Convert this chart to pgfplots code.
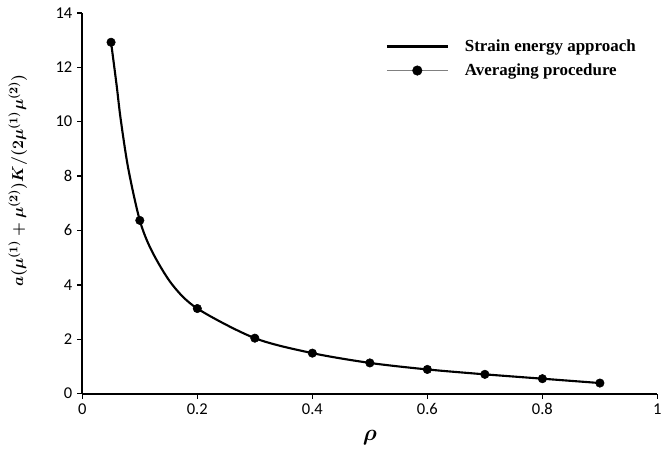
\documentclass[border=0pt]{standalone}
\usepackage{pgfplots}
\pgfplotsset{compat=1.18}
\usepackage{bm}
\usepackage{fontspec}
\setmainfont{Liberation Serif}
\setsansfont{Carlito}

\pgfplotsset{
    strainleg/.style={legend image code/.code={
        \path[draw=none, fill=none] (0pt,-9pt) rectangle (57pt,9pt);
        \draw[black, line width=2pt] (0pt,0pt) -- (46pt,0pt);}},
    avgleg/.style={legend image code/.code={
        \path[draw=none, fill=none] (0pt,-9pt) rectangle (57pt,9pt);
        \draw[gray, line width=0.8pt] (0pt,0pt) -- (46pt,0pt);
        \fill[black] (23pt,0pt) circle (3.6pt);}},
}

\begin{document}
\begin{tikzpicture}
\begin{axis}[
    at={(0,0)}, anchor=south west,
    scale only axis,
    width=435pt, height=288pt,
    xmin=0, xmax=1, ymin=0, ymax=14,
    xtick={0,0.2,0.4,0.6,0.8,1}, ytick={0,2,4,6,8,10,12,14},
    axis lines=left,
    axis line style={-, line width=1.3pt},
    tick style={line width=1.1pt, black},
    tick align=outside,
    major tick length=4pt,
    /pgf/number format/assume math mode=true,
    tick label style={font=\sffamily\fontsize{12.5}{14}\selectfont},
    legend style={at={(0.52,0.95)}, anchor=north west, draw=none, fill=none,
        font=\bfseries\fontsize{12.8}{15}\selectfont},
    legend cell align=left,
    clip=false,
]
\addplot[black, line width=1.6pt, smooth, forget plot] coordinates {
    (0.05,12.92) (0.0598,11.32) (0.0667,10.1) (0.0799,8.28) (0.1,6.37)
    (0.121,5.24) (0.156,4.02) (0.2,3.13) (0.3,2.04) (0.4,1.49)
    (0.5,1.13) (0.6,0.89) (0.7,0.71) (0.8,0.55) (0.9,0.39)
};
\addplot[only marks, mark=*, mark size=3.2pt, black, forget plot] coordinates {
    (0.05,12.92) (0.1,6.37) (0.2,3.13) (0.3,2.04) (0.4,1.49)
    (0.5,1.13) (0.6,0.89) (0.7,0.71) (0.8,0.55) (0.9,0.39)
};
\addlegendimage{strainleg}
\addlegendentry{Strain energy approach}
\addlegendimage{avgleg}
\addlegendentry{Averaging procedure}
\node[anchor=north, font=\fontsize{16}{18}\selectfont]
    at (axis description cs:0.5,-0.085) {$\bm{\rho}$};
\node[rotate=90, anchor=center, font=\fontsize{13}{15}\selectfont]
    at (axis description cs:-0.112,0.56)
    {$\bm{a}\bm{(}\bm{\mu}^{\bm{(1)}}\bm{+}\bm{\mu}^{\bm{(2)}}\bm{)}\bm{K}\bm{/}\bm{(}\bm{2}\bm{\mu}^{\bm{(1)}}\bm{\mu}^{\bm{(2)}}\bm{)}$};
\end{axis}
\path[use as bounding box] (-62.25pt,-45.75pt) rectangle (437.25pt,297.75pt);
\end{tikzpicture}
\end{document}
